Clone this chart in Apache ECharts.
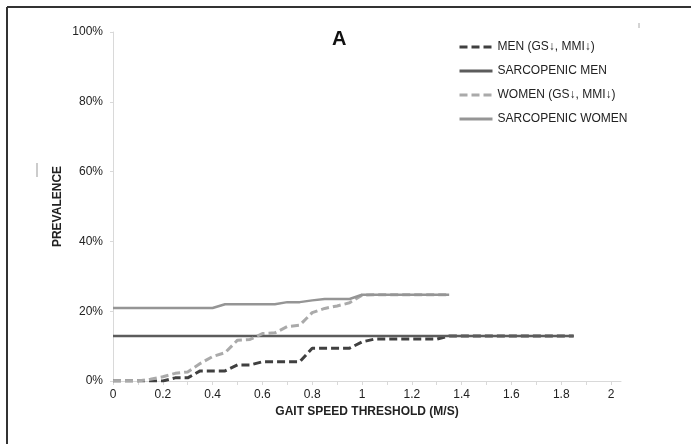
<!DOCTYPE html>
<html>
<head>
<meta charset="utf-8">
<script src="https://cdn.jsdelivr.net/npm/echarts@6/dist/echarts.min.js"></script>
<style>
  html, body { margin: 0; padding: 0; background: #fff; }
  #chart { width: 691px; height: 444px; }
</style>
</head>
<body>
<div id="chart"></div>
<script>
// Gait speed thresholds (m/s) in 0.05 steps
const menSpeed = [0, 0.05, 0.1, 0.15, 0.2, 0.25, 0.3, 0.35, 0.4, 0.45, 0.5, 0.55, 0.6, 0.65, 0.7, 0.75, 0.8, 0.85, 0.9, 0.95,
  1.0, 1.05, 1.1, 1.15, 1.2, 1.25, 1.3, 1.35, 1.4, 1.45, 1.5, 1.55, 1.6, 1.65, 1.7, 1.75, 1.8, 1.85];
const womenSpeed = [0, 0.05, 0.1, 0.15, 0.2, 0.25, 0.3, 0.35, 0.4, 0.45, 0.5, 0.55, 0.6, 0.65, 0.7, 0.75, 0.8, 0.85, 0.9, 0.95,
  1.0, 1.05, 1.1, 1.15, 1.2, 1.25, 1.3, 1.35];

// Prevalence (%)
const menLowGsMmi = [0, 0, 0, 0, 0, 0.9, 0.9, 2.9, 2.9, 2.9, 4.6, 4.6, 5.5, 5.5, 5.5, 5.5, 9.4, 9.4, 9.4, 9.4,
  11.2, 12.0, 12.0, 12.0, 12.0, 12.0, 12.0, 12.9, 12.9, 12.9, 12.9, 12.9, 12.9, 12.9, 12.9, 12.9, 12.9, 12.9];
const sarcopenicMenSpeed = [0, 1.85];
const sarcopenicMen = [12.9, 12.9];
const womenLowGsMmi = [0, 0, 0, 0.5, 1.2, 2.2, 2.6, 5.0, 7.0, 8.1, 11.7, 11.9, 13.6, 13.8, 15.6, 16.0, 19.6, 20.8, 21.5, 22.4,
  24.6, 24.7, 24.7, 24.7, 24.7, 24.7, 24.7, 24.7];
const sarcopenicWomen = [20.9, 20.9, 20.9, 20.9, 20.9, 20.9, 20.9, 20.9, 20.9, 22.0, 22.0, 22.0, 22.0, 22.0, 22.6, 22.6, 23.1, 23.5, 23.5, 23.5,
  24.7, 24.7, 24.7, 24.7, 24.7, 24.7, 24.7, 24.7];

const seriesNames = ['MEN (GS\u2193, MMI\u2193)', 'SARCOPENIC MEN', 'WOMEN (GS\u2193, MMI\u2193)', 'SARCOPENIC WOMEN'];
const xTicks = [0, 0.1, 0.2, 0.3, 0.4, 0.5, 0.6, 0.7, 0.8, 0.9, 1, 1.1, 1.2, 1.3, 1.4, 1.5, 1.6, 1.7, 1.8, 1.9, 2];
const xLabels = [0, 0.2, 0.4, 0.6, 0.8, 1, 1.2, 1.4, 1.6, 1.8, 2];

const pair = (xs, ys) => xs.map((x, i) => [x, ys[i]]);
const FONT = "'Liberation Sans', Arial, sans-serif";

const chart = echarts.init(document.getElementById('chart'), null, { renderer: 'canvas' });
chart.setOption({
  animation: false,
  backgroundColor: '#ffffff',
  textStyle: { fontFamily: FONT },
  title: {
    text: 'A',
    left: 327, top: 24,
    textStyle: { fontFamily: FONT, fontSize: 20, fontWeight: 'bold', color: '#111' }
  },
  legend: {
    orient: 'vertical',
    left: 453, top: 36,
    itemWidth: 33, itemHeight: 14, itemGap: 12,
    itemStyle: { opacity: 0 },
    lineStyle: { width: 3 },
    textStyle: { fontFamily: FONT, fontSize: 12, color: '#222' },
    data: seriesNames
  },
  grid: { left: 113, right: 70, top: 32, bottom: 63, containLabel: false },
  xAxis: {
    type: 'value',
    min: 0, max: 2.04,
    name: 'GAIT SPEED THRESHOLD (M/S)',
    nameLocation: 'middle',
    nameGap: 21,
    nameTextStyle: { fontFamily: FONT, fontSize: 12, fontWeight: 'bold', color: '#222' },
    axisLine: { lineStyle: { color: '#d9d9d9', width: 1 } },
    axisTick: { show: true, length: 4, lineStyle: { color: '#d9d9d9' }, customValues: xTicks },
    axisLabel: { fontFamily: FONT, fontSize: 12, color: '#222', margin: 8, customValues: xLabels,
      formatter: v => String(v) },
    splitLine: { show: false }
  },
  yAxis: {
    type: 'value',
    min: 0, max: 100, interval: 20,
    name: 'PREVALENCE',
    nameLocation: 'middle',
    nameGap: 49,
    nameMoveOverlap: false,
    nameTextStyle: { fontFamily: FONT, fontSize: 12, fontWeight: 'bold', color: '#222' },
    axisLine: { show: true, lineStyle: { color: '#d9d9d9', width: 1 } },
    axisTick: { show: true, length: 3, lineStyle: { color: '#d9d9d9' } },
    axisLabel: { fontFamily: FONT, fontSize: 12, color: '#222', margin: 10, formatter: '{value}%' },
    splitLine: { show: false }
  },
  series: [
    {
      name: seriesNames[0], type: 'line', data: pair(menSpeed, menLowGsMmi),
      showSymbol: false, symbol: 'none',
      lineStyle: { color: '#404040', width: 3, type: [8, 4] },
      itemStyle: { color: '#404040' }, z: 2
    },
    {
      name: seriesNames[1], type: 'line', data: pair(sarcopenicMenSpeed, sarcopenicMen),
      showSymbol: false, symbol: 'none',
      lineStyle: { color: '#5c5c5c', width: 2.5 },
      itemStyle: { color: '#5c5c5c' }, z: 3
    },
    {
      name: seriesNames[2], type: 'line', data: pair(womenSpeed, womenLowGsMmi),
      showSymbol: false, symbol: 'none',
      lineStyle: { color: '#aaaaaa', width: 3, type: [8, 4] },
      itemStyle: { color: '#aaaaaa' }, z: 4
    },
    {
      name: seriesNames[3], type: 'line', data: pair(womenSpeed, sarcopenicWomen),
      showSymbol: false, symbol: 'none',
      lineStyle: { color: '#959595', width: 2.5 },
      itemStyle: { color: '#959595' }, z: 5
    }
  ],
  graphic: [
    // frame edges along the top and left
    { type: 'line', shape: { x1: 7, y1: 7, x2: 691, y2: 7 }, style: { stroke: '#333', lineWidth: 2 } },
    { type: 'line', shape: { x1: 7, y1: 7, x2: 7, y2: 444 }, style: { stroke: '#333', lineWidth: 2 } },
    // small stray marks
    { type: 'line', shape: { x1: 37, y1: 163, x2: 37, y2: 177 }, style: { stroke: '#999', lineWidth: 1 } },
    { type: 'line', shape: { x1: 639, y1: 23, x2: 639, y2: 28 }, style: { stroke: '#aaa', lineWidth: 1 } }
  ]
});
</script>
</body>
</html>
